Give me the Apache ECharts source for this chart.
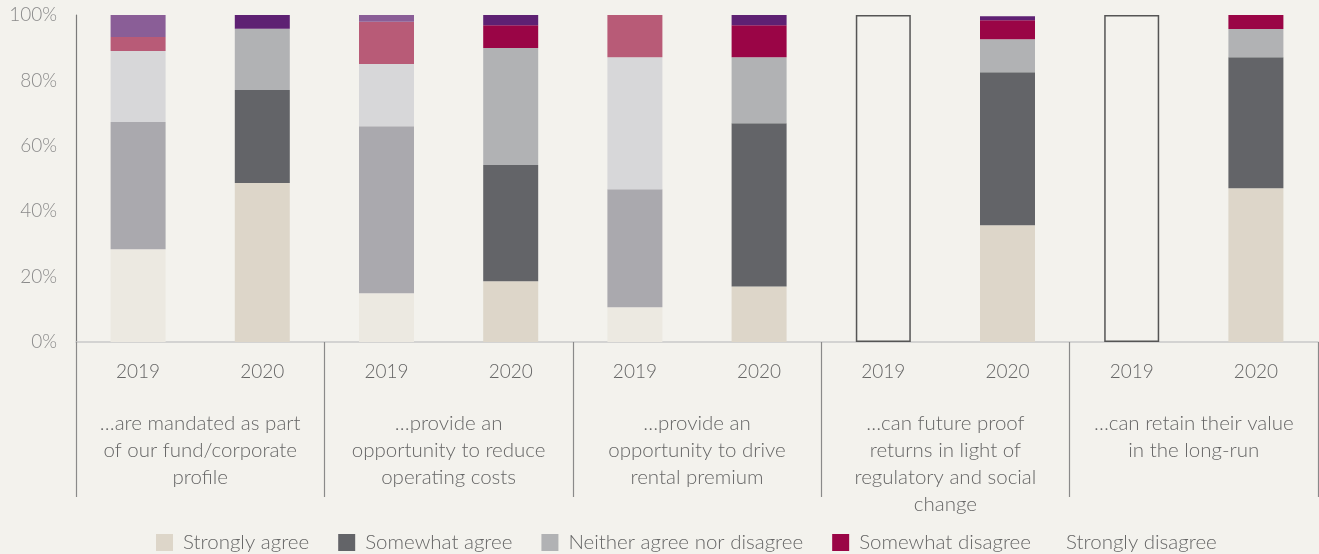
<!DOCTYPE html>
<html>
<head>
<meta charset="utf-8">
<script src="https://cdn.jsdelivr.net/npm/echarts@6/dist/echarts.min.js"></script>
<style>
  html, body { margin: 0; padding: 0; background: #f3f2ed; }
  #chart { width: 1319px; height: 554px; }
</style>
</head>
<body>
<div id="chart"></div>
<script>
// Survey years, one bar each, two per statement
const years = ['2019', '2020', '2019', '2020', '2019', '2020', '2019', '2020', '2019', '2020'];

// Statements grouping the bars
const statements = [
  '…are mandated as part\nof our fund/corporate\nprofile',
  '…provide an\nopportunity to reduce\noperating costs',
  '…provide an\nopportunity to drive\nrental premium',
  '…can future proof\nreturns in light of\nregulatory and social\nchange',
  '…can retain their value\nin the long-run'
];

// Share of respondents (%) per answer, in bar order
const stronglyAgree    = [28.4, 48.6, 14.9, 18.6, 10.6, 17.0, null, 35.7, null, 47.0];
const somewhatAgree    = [38.9, 28.5, 51.1, 35.5, 36.1, 49.9, null, 46.8, null, 40.1];
const neitherAgree     = [21.7, 18.7, 19.0, 35.8, 40.4, 20.2, null, 10.1, null, 8.6];
const somewhatDisagree = [4.3, 0, 12.9, 7.0, 12.9, 9.8, null, 5.8, null, 4.3];
const stronglyDisagree = [6.7, 4.3, 2.1, 3.1, 0, 3.1, null, 1.2, null, 0];

// Statements not asked in 2019: an empty outlined bar spans the full scale
const notAsked = [null, null, null, null, null, null, 100, null, 100, null];

const yTicks = [0, 20, 40, 60, 80, 100];

const FONT = 'Lato';
const TEXT = '#666666';

// [2020 colour, 2019 colour]
const answers = [
  { name: 'Strongly agree',             data: stronglyAgree,    c: ['#ddd6c9', '#ece9e1'] },
  { name: 'Somewhat agree',             data: somewhatAgree,    c: ['#636468', '#aaa9ae'] },
  { name: 'Neither agree nor disagree', data: neitherAgree,     c: ['#b1b2b4', '#d7d7d9'] },
  { name: 'Somewhat disagree',          data: somewhatDisagree, c: ['#9a0546', '#b85b77'] },
  { name: 'Strongly disagree',          data: stronglyDisagree, c: ['#5e2173', '#8a5e97'] }
];

const series = answers.map(a => ({
  name: a.name,
  type: 'bar',
  stack: 'total',
  barWidth: 55,
  itemStyle: { color: a.c[0] },
  emphasis: { disabled: true },
  data: a.data.map((v, i) => ({
    value: v,
    itemStyle: { color: years[i] === '2019' ? a.c[1] : a.c[0] }
  }))
}));

series.push({
  name: 'Not asked',
  type: 'bar',
  stack: 'total',
  barWidth: 55,
  itemStyle: { color: 'transparent', borderColor: '#555555', borderWidth: 1.5 },
  emphasis: { disabled: true },
  data: notAsked
});

const chart = echarts.init(document.getElementById('chart'), null, { renderer: 'canvas' });

const legendText = { fontFamily: FONT, fontWeight: 300, fontSize: 20.5, color: TEXT };

chart.setOption({
  backgroundColor: '#f3f2ed',
  animation: false,
  textStyle: { fontFamily: FONT },
  grid: { left: 76, right: 1, top: 15, bottom: 212 },
  legend: [
    {
      left: 151,
      top: 527,
      itemWidth: 17,
      itemHeight: 17,
      itemGap: 29,
      icon: 'rect',
      selectedMode: false,
      data: answers.slice(0, 4).map(a => a.name),
      textStyle: Object.assign({ padding: [0, 0, 0, 5] }, legendText)
    },
    {
      left: 1056,
      top: 527,
      itemWidth: 0,
      itemHeight: 17,
      icon: 'none',
      selectedMode: false,
      data: [answers[4].name],
      textStyle: legendText
    }
  ],
  xAxis: [
    {
      type: 'category',
      data: years,
      position: 'bottom',
      axisLine: { show: true, lineStyle: { color: '#c9c9c9', width: 1.5 } },
      axisTick: { show: false },
      axisLabel: { interval: 0, margin: 20, fontFamily: FONT, fontWeight: 300, fontSize: 19, color: TEXT }
    },
    {
      type: 'category',
      data: statements,
      position: 'bottom',
      axisLine: { show: false },
      axisTick: { show: true, interval: 0, length: 155, lineStyle: { color: '#8a8a8a', width: 1.2 } },
      axisLabel: {
        interval: 0, margin: 68, fontFamily: FONT, fontWeight: 300, fontSize: 20.5,
        lineHeight: 27, color: TEXT, align: 'center'
      }
    }
  ],
  yAxis: {
    type: 'value',
    min: yTicks[0],
    max: yTicks[yTicks.length - 1],
    interval: yTicks[1] - yTicks[0],
    axisLine: { show: true, lineStyle: { color: '#7a7a7a', width: 1.2 } },
    axisTick: { show: false },
    splitLine: { show: false },
    axisLabel: { formatter: '{value}%', margin: 19, fontFamily: FONT, fontWeight: 300, fontSize: 19, color: '#8a8a8a' }
  },
  series: series
});
</script>
</body>
</html>
